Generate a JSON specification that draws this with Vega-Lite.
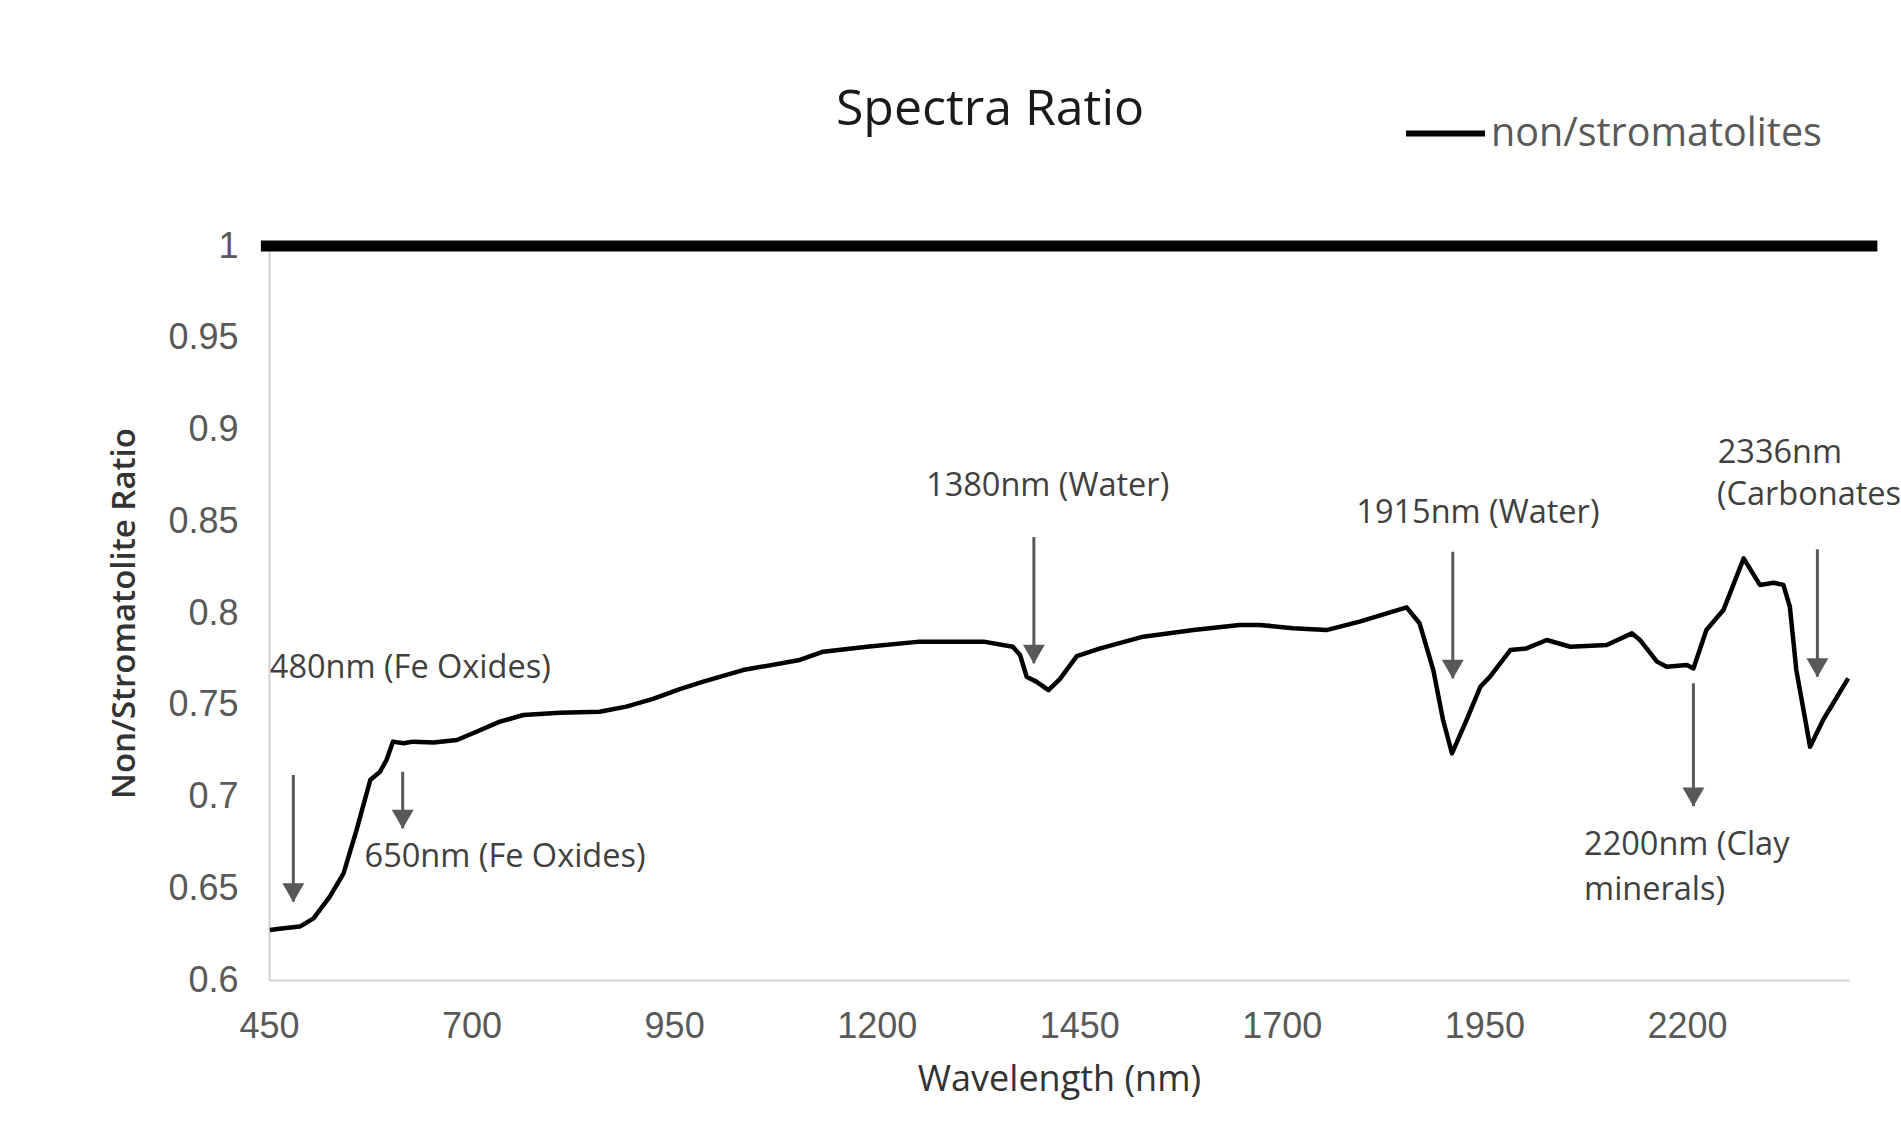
{
  "$schema": "https://vega.github.io/schema/vega-lite/v6.json",
  "width": 1580,
  "height": 734,
  "autosize": "none",
  "padding": {"left": 269, "top": 246, "right": 52, "bottom": 156},
  "background": "#ffffff",
  "title": {
    "text": "Spectra Ratio",
    "anchor": "middle",
    "dx": -69,
    "offset": -44,
    "font": "Open Sans",
    "fontSize": 50,
    "fontWeight": "normal",
    "color": "#1a1a1a"
  },
  "config": {
    "view": {"stroke": null},
    "axis": {
      "grid": false,
      "ticks": false,
      "tickSize": 0,
      "domainColor": "#d0d0d0",
      "domainWidth": 2,
      "labelFont": "Liberation Sans",
      "labelFontSize": 36,
      "labelColor": "#595959",
      "labelFlush": false,
      "titleColor": "#333333"
    }
  },
  "datasets": {
    "spectrum": [
      {"wl": 451, "ratio": 0.6272, "series": "non/stromatolites"},
      {"wl": 468, "ratio": 0.6282, "series": "non/stromatolites"},
      {"wl": 488, "ratio": 0.6291, "series": "non/stromatolites"},
      {"wl": 505, "ratio": 0.6336, "series": "non/stromatolites"},
      {"wl": 525, "ratio": 0.6454, "series": "non/stromatolites"},
      {"wl": 542, "ratio": 0.6581, "series": "non/stromatolites"},
      {"wl": 558, "ratio": 0.6817, "series": "non/stromatolites"},
      {"wl": 575, "ratio": 0.709, "series": "non/stromatolites"},
      {"wl": 587, "ratio": 0.7135, "series": "non/stromatolites"},
      {"wl": 595, "ratio": 0.7199, "series": "non/stromatolites"},
      {"wl": 603, "ratio": 0.7299, "series": "non/stromatolites"},
      {"wl": 616, "ratio": 0.729, "series": "non/stromatolites"},
      {"wl": 628, "ratio": 0.7299, "series": "non/stromatolites"},
      {"wl": 653, "ratio": 0.7294, "series": "non/stromatolites"},
      {"wl": 682, "ratio": 0.7308, "series": "non/stromatolites"},
      {"wl": 706, "ratio": 0.7353, "series": "non/stromatolites"},
      {"wl": 735, "ratio": 0.7408, "series": "non/stromatolites"},
      {"wl": 764, "ratio": 0.7444, "series": "non/stromatolites"},
      {"wl": 809, "ratio": 0.7457, "series": "non/stromatolites"},
      {"wl": 858, "ratio": 0.7462, "series": "non/stromatolites"},
      {"wl": 891, "ratio": 0.749, "series": "non/stromatolites"},
      {"wl": 924, "ratio": 0.7532, "series": "non/stromatolites"},
      {"wl": 957, "ratio": 0.7585, "series": "non/stromatolites"},
      {"wl": 986, "ratio": 0.7626, "series": "non/stromatolites"},
      {"wl": 1035, "ratio": 0.7689, "series": "non/stromatolites"},
      {"wl": 1105, "ratio": 0.7744, "series": "non/stromatolites"},
      {"wl": 1134, "ratio": 0.7789, "series": "non/stromatolites"},
      {"wl": 1188, "ratio": 0.7816, "series": "non/stromatolites"},
      {"wl": 1253, "ratio": 0.7844, "series": "non/stromatolites"},
      {"wl": 1332, "ratio": 0.7844, "series": "non/stromatolites"},
      {"wl": 1368, "ratio": 0.7816, "series": "non/stromatolites"},
      {"wl": 1377, "ratio": 0.7771, "series": "non/stromatolites"},
      {"wl": 1385, "ratio": 0.7653, "series": "non/stromatolites"},
      {"wl": 1397, "ratio": 0.7626, "series": "non/stromatolites"},
      {"wl": 1412, "ratio": 0.758, "series": "non/stromatolites"},
      {"wl": 1426, "ratio": 0.764, "series": "non/stromatolites"},
      {"wl": 1447, "ratio": 0.7765, "series": "non/stromatolites"},
      {"wl": 1476, "ratio": 0.7807, "series": "non/stromatolites"},
      {"wl": 1529, "ratio": 0.7871, "series": "non/stromatolites"},
      {"wl": 1591, "ratio": 0.7907, "series": "non/stromatolites"},
      {"wl": 1648, "ratio": 0.7935, "series": "non/stromatolites"},
      {"wl": 1673, "ratio": 0.7935, "series": "non/stromatolites"},
      {"wl": 1714, "ratio": 0.7917, "series": "non/stromatolites"},
      {"wl": 1755, "ratio": 0.7907, "series": "non/stromatolites"},
      {"wl": 1796, "ratio": 0.7953, "series": "non/stromatolites"},
      {"wl": 1854, "ratio": 0.8031, "series": "non/stromatolites"},
      {"wl": 1870, "ratio": 0.7944, "series": "non/stromatolites"},
      {"wl": 1887, "ratio": 0.7689, "series": "non/stromatolites"},
      {"wl": 1899, "ratio": 0.7417, "series": "non/stromatolites"},
      {"wl": 1910, "ratio": 0.7235, "series": "non/stromatolites"},
      {"wl": 1928, "ratio": 0.7417, "series": "non/stromatolites"},
      {"wl": 1945, "ratio": 0.7598, "series": "non/stromatolites"},
      {"wl": 1957, "ratio": 0.7653, "series": "non/stromatolites"},
      {"wl": 1982, "ratio": 0.7798, "series": "non/stromatolites"},
      {"wl": 2002, "ratio": 0.7807, "series": "non/stromatolites"},
      {"wl": 2027, "ratio": 0.7853, "series": "non/stromatolites"},
      {"wl": 2056, "ratio": 0.7816, "series": "non/stromatolites"},
      {"wl": 2101, "ratio": 0.7826, "series": "non/stromatolites"},
      {"wl": 2132, "ratio": 0.7889, "series": "non/stromatolites"},
      {"wl": 2142, "ratio": 0.7853, "series": "non/stromatolites"},
      {"wl": 2163, "ratio": 0.7735, "series": "non/stromatolites"},
      {"wl": 2175, "ratio": 0.7707, "series": "non/stromatolites"},
      {"wl": 2200, "ratio": 0.7717, "series": "non/stromatolites"},
      {"wl": 2208, "ratio": 0.7698, "series": "non/stromatolites"},
      {"wl": 2224, "ratio": 0.7907, "series": "non/stromatolites"},
      {"wl": 2245, "ratio": 0.8016, "series": "non/stromatolites"},
      {"wl": 2270, "ratio": 0.8298, "series": "non/stromatolites"},
      {"wl": 2290, "ratio": 0.8153, "series": "non/stromatolites"},
      {"wl": 2307, "ratio": 0.8165, "series": "non/stromatolites"},
      {"wl": 2319, "ratio": 0.8153, "series": "non/stromatolites"},
      {"wl": 2327, "ratio": 0.8034, "series": "non/stromatolites"},
      {"wl": 2335, "ratio": 0.7689, "series": "non/stromatolites"},
      {"wl": 2352, "ratio": 0.7271, "series": "non/stromatolites"},
      {"wl": 2368, "ratio": 0.7417, "series": "non/stromatolites"},
      {"wl": 2399, "ratio": 0.7644, "series": "non/stromatolites"}
    ],
    "unity": [
      {"wl": 440, "ratio": 1},
      {"wl": 2435, "ratio": 1}
    ],
    "arrows": [
      {"wl": 480, "ratio": 0.7117, "ratio2": 0.6427},
      {"wl": 615, "ratio": 0.7135, "ratio2": 0.6827},
      {"wl": 1394, "ratio": 0.8414, "ratio2": 0.7726},
      {"wl": 1911, "ratio": 0.8334, "ratio2": 0.7644},
      {"wl": 2208, "ratio": 0.7617, "ratio2": 0.6948},
      {"wl": 2361, "ratio": 0.8347, "ratio2": 0.7653}
    ],
    "labelsLeft": [
      {"wl": 451, "ratio": 0.7699, "label": "480nm (Fe Oxides)"},
      {"wl": 568, "ratio": 0.6672, "label": "650nm (Fe Oxides)"},
      {"wl": 2238, "ratio": 0.887, "label": "2336nm"},
      {"wl": 2237, "ratio": 0.8643, "label": "(Carbonates)"},
      {"wl": 2073, "ratio": 0.6736, "label": "2200nm (Clay"},
      {"wl": 2073, "ratio": 0.649, "label": "minerals)"}
    ],
    "labelsCenter": [
      {"wl": 1411, "ratio": 0.8692, "label": "1380nm (Water)"},
      {"wl": 1942, "ratio": 0.8545, "label": "1915nm (Water)"}
    ]
  },
  "encoding": {
    "x": {
      "field": "wl",
      "type": "quantitative",
      "scale": {"domain": [450, 2400], "nice": false, "zero": false},
      "axis": {
        "title": "Wavelength (nm)",
        "values": [450, 700, 950, 1200, 1450, 1700, 1950, 2200],
        "format": "d",
        "labelPadding": 29,
        "titleFont": "Open Sans",
        "titleFontSize": 36,
        "titleFontWeight": "normal",
        "titlePadding": 18
      }
    },
    "y": {
      "field": "ratio",
      "type": "quantitative",
      "scale": {"domain": [0.6, 1.0], "nice": false, "zero": false},
      "axis": {
        "title": "Non/Stromatolite Ratio",
        "values": [0.6, 0.65, 0.7, 0.75, 0.8, 0.85, 0.9, 0.95, 1],
        "format": "~g",
        "labelPadding": 31,
        "titleFont": "Open Sans",
        "titleFontSize": 33,
        "titleFontWeight": 600,
        "titlePadding": 26
      }
    }
  },
  "layer": [
    {
      "data": {"name": "unity"},
      "mark": {"type": "line", "color": "#000000", "strokeWidth": 11, "strokeCap": "butt", "clip": false}
    },
    {
      "data": {"name": "spectrum"},
      "mark": {"type": "line", "strokeWidth": 4.5, "strokeJoin": "round"},
      "encoding": {
        "color": {
          "field": "series",
          "type": "nominal",
          "scale": {"range": ["#000000"]},
          "legend": {
            "title": null,
            "orient": "none",
            "legendX": 1134,
            "legendY": -155,
            "padding": 0,
            "symbolType": "stroke",
            "symbolSize": 6241,
            "symbolStrokeWidth": 6,
            "labelFont": "Open Sans",
            "labelFontSize": 39.5,
            "labelColor": "#595959",
            "labelOffset": 3,
            "labelLimit": 600
          }
        }
      }
    },
    {
      "data": {"name": "arrows"},
      "mark": {"type": "rule", "color": "#595959", "strokeWidth": 3},
      "encoding": {"y2": {"field": "ratio2"}}
    },
    {
      "data": {"name": "arrows"},
      "mark": {"type": "point", "shape": "triangle-down", "filled": true, "color": "#595959", "size": 480, "opacity": 1, "yOffset": -9},
      "encoding": {"y": {"field": "ratio2", "type": "quantitative"}}
    },
    {
      "data": {"name": "labelsLeft"},
      "mark": {"type": "text", "align": "left", "baseline": "middle", "font": "Open Sans", "fontSize": 32.5, "color": "#404040", "clip": false},
      "encoding": {"text": {"field": "label"}}
    },
    {
      "data": {"name": "labelsCenter"},
      "mark": {"type": "text", "align": "center", "baseline": "middle", "font": "Open Sans", "fontSize": 32.5, "color": "#404040", "clip": false},
      "encoding": {"text": {"field": "label"}}
    }
  ]
}
